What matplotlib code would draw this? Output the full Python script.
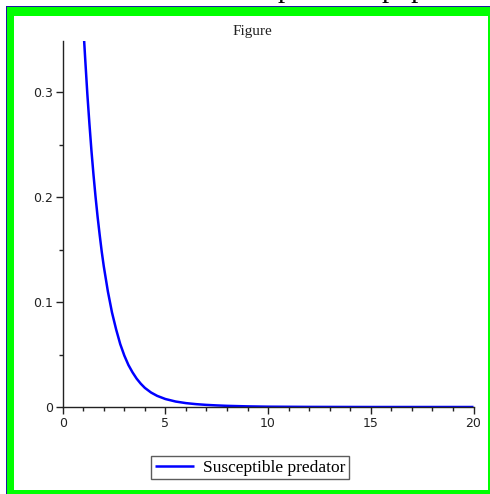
import matplotlib
matplotlib.use("Agg")
import matplotlib.pyplot as plt
from matplotlib.patches import Rectangle
from matplotlib.ticker import MultipleLocator
import numpy as np

# data
t = [0.98, 1.04, 1.1, 1.2, 1.3, 1.4, 1.5, 1.6, 1.7, 1.8, 1.9, 2.0, 2.2, 2.4, 2.6,
     2.8, 3.0, 3.2, 3.4, 3.6, 3.8, 4.0, 4.3, 4.6, 5.0, 5.5, 6.0, 6.5, 7.0, 7.5, 8.0,
     9.0, 10.0, 12.0, 15.0, 20.0]
susceptible = [0.372, 0.350, 0.330, 0.298, 0.270, 0.244, 0.221, 0.200, 0.181, 0.164,
               0.148, 0.134, 0.110, 0.090, 0.074, 0.060, 0.049, 0.040, 0.033, 0.027,
               0.0222, 0.0182, 0.0138, 0.0106, 0.0076, 0.0052, 0.0037, 0.0027, 0.0020,
               0.0015, 0.0011, 0.0006, 0.0003, 0.0001, 0.0, 0.0]
xticks = [0, 5, 10, 15, 20]
yticks = [0, 0.1, 0.2, 0.3]
ytick_labels = ["0", "0.1", "0.2", "0.3"]

W, H = 490, 494
fig = plt.figure(figsize=(W / 100, H / 100), dpi=100)
fig.patch.set_facecolor("white")

def fx(px):
    return px / W

def fy(py):
    return 1 - py / H

# frame: green border with thin blue line
fig.patches.append(Rectangle((fx(7), fy(16)), fx(481), 9 / H, transform=fig.transFigure,
                             facecolor="#00ff00", edgecolor="none"))
fig.patches.append(Rectangle((fx(7), 0), fx(7), fy(7), transform=fig.transFigure,
                             facecolor="#00ff00", edgecolor="none"))
fig.patches.append(Rectangle((fx(488), 0), fx(2), fy(7), transform=fig.transFigure,
                             facecolor="#00ff00", edgecolor="none"))
fig.patches.append(Rectangle((fx(7), 0), fx(483), 4 / H, transform=fig.transFigure,
                             facecolor="#00ff00", edgecolor="none"))
fig.patches.append(Rectangle((fx(6), fy(7)), fx(484), 1 / H, transform=fig.transFigure,
                             facecolor="#1a1aa0", edgecolor="none"))
fig.patches.append(Rectangle((fx(6), 0), fx(1), fy(6), transform=fig.transFigure,
                             facecolor="#1a1aa0", edgecolor="none"))

# cut-off caption text at the very top (only descenders visible)
fig.text(fx(278), fy(-2.5), "predator population", family="Liberation Serif",
         fontsize=21, ha="left", va="baseline", color="black")

ax = fig.add_axes([fx(62.7), fy(407), fx(473.5) - fx(62.7), fy(41) - fy(407)])
ax.plot(t, susceptible, color="#0000ff", lw=1.8, label="Susceptible predator",
        solid_capstyle="butt")
ax.set_xlim(0, 20)
ax.set_ylim(0, 0.3486)
ax.spines["top"].set_visible(False)
ax.spines["right"].set_visible(False)
for s in ("left", "bottom"):
    ax.spines[s].set_color("#222222")
    ax.spines[s].set_linewidth(1.0)
ax.set_xticks(xticks)
ax.set_xticklabels([str(v) for v in xticks])
ax.set_yticks(yticks)
ax.set_yticklabels(ytick_labels)
ax.xaxis.set_minor_locator(MultipleLocator(1))
ax.yaxis.set_minor_locator(MultipleLocator(0.05))
ax.tick_params(which="major", direction="out", length=5, width=1, color="#222222",
               labelsize=9, pad=2, labelcolor="#222222")
ax.tick_params(which="minor", direction="out", length=3, width=1, color="#222222")
for lab in ax.get_xticklabels() + ax.get_yticklabels():
    lab.set_family("DejaVu Sans")

fig.text(fx(252), fy(32), "Figure", family="Liberation Serif", fontsize=11,
         ha="center", va="center", color="#222222")

leg = fig.legend(loc="center", bbox_to_anchor=(fx(250), fy(467.5)),
                 prop={"family": "Liberation Serif", "size": 12.5},
                 frameon=True, fancybox=False, borderpad=0.2, handlelength=2.3,
                 handletextpad=0.5, borderaxespad=0)
leg.get_frame().set_edgecolor("#333333")
leg.get_frame().set_linewidth(1.0)

fig.savefig("out.png", dpi=100, facecolor="white")
